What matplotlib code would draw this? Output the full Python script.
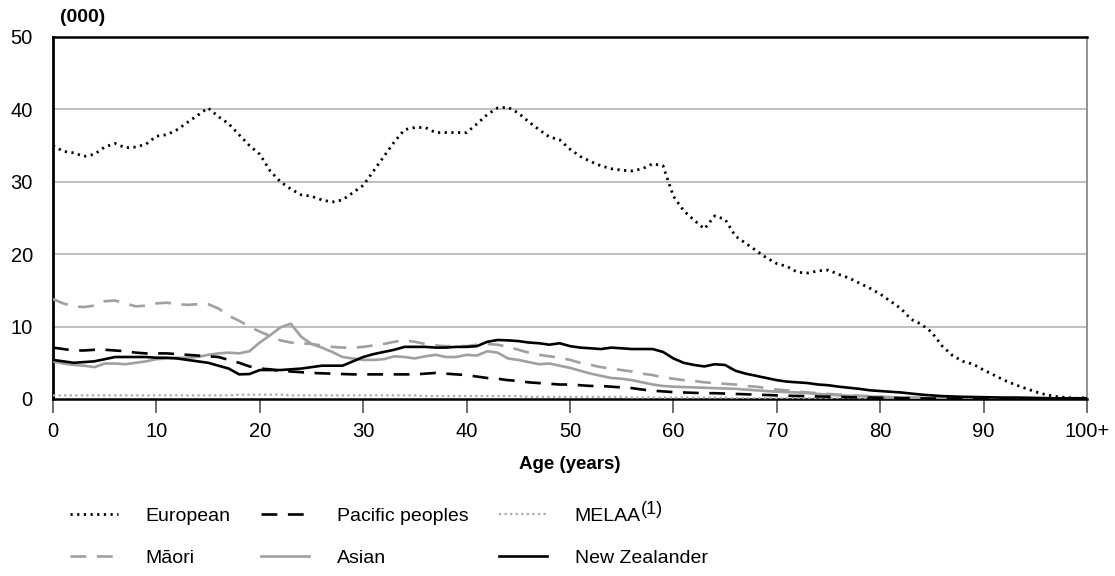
import matplotlib
matplotlib.use("Agg")
import matplotlib.pyplot as plt
import numpy as np

plt.rcParams['font.family'] = ['Liberation Sans', 'DejaVu Sans']

ages = list(range(0, 101))
x_tick_labels = ['0', '10', '20', '30', '40', '50', '60', '70', '80', '90', '100+']

european = [35.0, 34.2, 34.0, 33.5, 33.8, 34.8, 35.3, 34.7, 34.8, 35.2,
            36.3, 36.5, 37.2, 38.2, 39.2, 40.2, 39.0, 38.0, 36.5, 35.0,
            33.8, 31.5, 30.0, 29.0, 28.2, 28.0, 27.5, 27.2, 27.5, 28.5,
            29.5, 31.5, 33.5, 35.5, 37.2, 37.5, 37.5, 36.8, 36.8, 36.8,
            36.8, 38.0, 39.3, 40.2, 40.3, 39.5, 38.3, 37.2, 36.2, 35.8,
            34.5, 33.5, 32.8, 32.2, 31.8, 31.6, 31.5, 31.8, 32.5, 32.2,
            28.0, 26.0, 24.7, 23.5, 25.3, 24.8, 22.5, 21.5, 20.5, 19.5,
            18.7, 18.3, 17.5, 17.4, 17.7, 17.8, 17.2, 16.7, 16.0, 15.3,
            14.5, 13.5, 12.5, 11.0, 10.3, 9.2, 7.3, 6.0, 5.2, 4.8,
            4.0, 3.3, 2.6, 2.0, 1.5, 1.0, 0.6, 0.35, 0.2, 0.1, 0.2]

maori = [13.8, 13.2, 12.8, 12.7, 12.9, 13.5, 13.6, 13.2, 12.8, 12.9,
         13.2, 13.3, 13.1, 13.0, 13.1, 13.1, 12.5, 11.5, 10.8, 10.0,
         9.3, 8.7, 8.1, 7.8, 7.7, 7.6, 7.4, 7.2, 7.1, 7.1,
         7.2, 7.4, 7.6, 7.9, 8.1, 7.9, 7.6, 7.4, 7.3, 7.3,
         7.3, 7.5, 7.6, 7.5, 7.2, 6.8, 6.4, 6.1, 5.9, 5.7,
         5.4, 5.0, 4.7, 4.4, 4.2, 4.0, 3.8, 3.5, 3.3, 3.0,
         2.8, 2.6, 2.5, 2.3, 2.2, 2.1, 2.0, 1.8, 1.7, 1.5,
         1.3, 1.2, 1.0, 0.9, 0.8, 0.7, 0.6, 0.5, 0.45, 0.4,
         0.3, 0.25, 0.2, 0.18, 0.15, 0.12, 0.1, 0.08, 0.06, 0.05,
         0.04, 0.03, 0.02, 0.02, 0.01, 0.01, 0.0, 0.0, 0.0, 0.0, 0.0]

pacific = [7.1, 6.9, 6.7, 6.7, 6.8, 6.8, 6.7, 6.6, 6.4, 6.3,
           6.3, 6.3, 6.2, 6.1, 6.0, 5.9, 5.8, 5.4, 5.0, 4.5,
           4.2, 4.1, 3.9, 3.8, 3.7, 3.6, 3.55, 3.5, 3.45, 3.4,
           3.4, 3.4, 3.4, 3.4, 3.4, 3.4, 3.5, 3.6, 3.5, 3.4,
           3.3, 3.1, 2.9, 2.8, 2.6, 2.5, 2.3, 2.2, 2.1, 2.0,
           2.0, 1.9, 1.8, 1.8, 1.7, 1.6, 1.5, 1.3, 1.15, 1.05,
           0.95, 0.9, 0.85, 0.8, 0.8, 0.75, 0.7, 0.65, 0.6, 0.55,
           0.5, 0.45, 0.42, 0.4, 0.35, 0.32, 0.3, 0.25, 0.22, 0.2,
           0.18, 0.15, 0.12, 0.1, 0.08, 0.06, 0.05, 0.04, 0.03, 0.02,
           0.02, 0.01, 0.01, 0.0, 0.0, 0.0, 0.0, 0.0, 0.0, 0.0, 0.0]

asian = [5.2, 4.9, 4.7, 4.6, 4.4, 4.9, 4.9, 4.8, 5.0, 5.2,
         5.5, 5.6, 5.7, 5.7, 5.8, 6.1, 6.3, 6.4, 6.3, 6.6,
         7.8, 8.8, 9.9, 10.4, 8.6, 7.6, 7.1, 6.5, 5.8, 5.6,
         5.4, 5.4, 5.5, 5.9, 5.8, 5.6, 5.9, 6.1, 5.8, 5.8,
         6.1, 6.0, 6.6, 6.4, 5.6, 5.4, 5.1, 4.8, 4.9, 4.6,
         4.3, 3.9, 3.5, 3.2, 2.9, 2.8, 2.6, 2.3, 2.0, 1.8,
         1.7, 1.65, 1.6, 1.55, 1.5, 1.45, 1.4, 1.3, 1.2, 1.1,
         1.0, 0.95, 0.9, 0.8, 0.7, 0.6, 0.5, 0.45, 0.4, 0.35,
         0.3, 0.25, 0.2, 0.18, 0.15, 0.12, 0.1, 0.08, 0.06, 0.05,
         0.04, 0.03, 0.02, 0.02, 0.01, 0.01, 0.0, 0.0, 0.0, 0.0, 0.0]

melaa = [0.5] * 18 + [0.6] * 5 + [0.5] * 13 + [0.4] * 10 + [0.3] * 10 + \
        [0.2] * 10 + [0.1] * 15 + [0.05] * 20

nzer = [5.4, 5.2, 5.0, 5.1, 5.2, 5.5, 5.8, 5.8, 5.8, 5.8,
        5.7, 5.7, 5.6, 5.4, 5.2, 5.0, 4.6, 4.2, 3.4, 3.45,
        4.0, 4.0, 4.0, 4.1, 4.2, 4.4, 4.6, 4.6, 4.6, 5.2,
        5.8, 6.2, 6.5, 6.8, 7.2, 7.2, 7.2, 7.1, 7.1, 7.2,
        7.2, 7.3, 7.9, 8.15, 8.1, 8.0, 7.8, 7.7, 7.5, 7.7,
        7.3, 7.1, 7.0, 6.9, 7.1, 7.0, 6.9, 6.9, 6.9, 6.5,
        5.6, 5.0, 4.7, 4.5, 4.8, 4.7, 3.9, 3.5, 3.2, 2.9,
        2.6, 2.4, 2.3, 2.2, 2.0, 1.9, 1.7, 1.55, 1.4, 1.2,
        1.1, 1.0, 0.9, 0.75, 0.6, 0.5, 0.4, 0.35, 0.3, 0.28,
        0.25, 0.22, 0.2, 0.2, 0.18, 0.15, 0.12, 0.1, 0.1, 0.1, 0.1]

fig = plt.figure(figsize=(11.15, 5.76), dpi=100)
ax = fig.add_axes([53 / 1115, 1 - 399 / 576, (1087 - 53) / 1115, (399 - 37) / 576])

grey = '#a0a0a0'
ax.plot(ages, melaa, color='#a8a8a8', lw=1.6, linestyle=(0, (1, 1.5)), label='MELAA', zorder=3)
ax.plot(ages, asian, color=grey, lw=1.9, linestyle='-', label='Asian', zorder=4)
ax.plot(ages, maori, color=grey, lw=1.9, linestyle=(0, (6, 4)), label='Māori', zorder=4)
ax.plot(ages, pacific, color='black', lw=1.9, linestyle=(0, (6, 4)), label='Pacific peoples', zorder=5)
ax.plot(ages, nzer, color='black', lw=1.9, linestyle='-', label='New Zealander', zorder=5)
ax.plot(ages, european, color='black', lw=2.0, linestyle=(0, (0.8, 1.6)), label='European', zorder=6)

ax.set_xlim(0, 100)
ax.set_ylim(0, 50)
ax.set_yticks([0, 10, 20, 30, 40, 50])
ax.set_xticks(list(range(0, 101, 10)))
ax.set_xticklabels(x_tick_labels)
ax.tick_params(axis='y', length=0, pad=14.5, labelsize=14.5)
ax.tick_params(axis='x', length=10, width=1.2, color='#555555', pad=6.5, labelsize=14.5, direction='out')
for yv in [10, 20, 30, 40]:
    ax.axhline(yv, color='#b4b4b4', lw=1.2, zorder=1)

ax.spines['top'].set_linewidth(1.8)
ax.spines['top'].set_color('black')
ax.spines['left'].set_linewidth(2.0)
ax.spines['left'].set_color('black')
ax.spines['bottom'].set_linewidth(1.8)
ax.spines['bottom'].set_color('black')
ax.spines['right'].set_linewidth(1.2)
ax.spines['right'].set_color('#808080')

ax.set_xlabel('Age (years)', fontsize=13.5, fontweight='bold', labelpad=11)
fig.text(60 / 1115, 1 - 18 / 576, '(000)', fontsize=14, fontweight='bold', va='center', ha='left')

handles, labels = ax.get_legend_handles_labels()
order = ['European', 'Māori', 'Pacific peoples', 'Asian', 'MELAA', 'New Zealander']
hmap = dict(zip(labels, handles))
leg = fig.legend([hmap[k] for k in order], order, ncol=3, loc='upper left',
                 bbox_to_anchor=(70 / 1115, 1 - 507 / 576), frameon=False,
                 borderpad=0, borderaxespad=0,
                 fontsize=14, handlelength=2.47, handletextpad=1.4,
                 columnspacing=1.6, labelspacing=1.25)

# superscript note marker after "MELAA"
fig.canvas.draw()
renderer = fig.canvas.get_renderer()
for t in leg.get_texts():
    if t.get_text() == 'MELAA':
        bb = t.get_window_extent(renderer).transformed(fig.transFigure.inverted())
        fig.text(bb.x1, bb.y1 - 2 / 576, '(1)', fontsize=13,
                 ha='left', va='center')

fig.savefig('out.png', dpi=100)
